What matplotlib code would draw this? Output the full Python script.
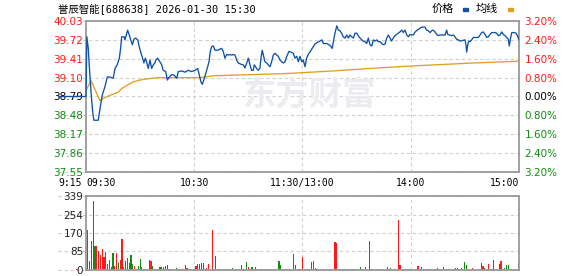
import matplotlib
matplotlib.use("Agg")
import matplotlib.pyplot as plt
from matplotlib.patches import Rectangle

plt.rcParams['font.family'] = ['DejaVu Sans', 'Noto Sans CJK SC']

# --- data ---
title = '誉辰智能[688638] 2026-01-30 15:30'
pre_close = 38.79
price_ticks = [37.55, 37.86, 38.17, 38.48, 38.79, 39.10, 39.41, 39.72, 40.03]
pct_labels = ['3.20%', '2.40%', '1.60%', '0.80%', '0.00%', '0.80%', '1.60%', '2.40%', '3.20%']
time_ticks = [-15.5, 0, 60, 120, 180, 240]
time_labels = ['9:15', '09:30', '10:30', '11:30/13:00', '14:00', '15:00']
vol_ticks = [0, 85, 170, 254, 339]

# minutes after 09:30 (lunch break removed)
price_min = [0.5, 1.3, 1.8, 2.8, 3.7, 4.4, 6.8, 7.4, 8.1, 9.0,
             10.5, 11.8, 13.3, 15.1, 16.1, 17.3, 18.5, 19.2, 19.8, 21.2,
             21.6, 22.6, 23.1, 24.0, 24.8, 25.7, 26.6, 27.5, 28.7, 29.5,
             30.5, 31.4, 32.1, 32.9, 33.6, 34.5, 35.5, 36.4, 37.3, 38.2,
             38.8, 39.7, 41.0, 42.0, 42.8, 44.2, 45.1, 46.2, 47.5, 48.9,
             50.3, 51.2, 53.0, 54.9, 56.7, 58.6, 60.4, 61.9, 62.6, 63.7,
             64.5, 65.6, 66.9, 68.2, 68.9, 69.7, 70.6, 71.5, 73.0, 74.3,
             75.2, 76.1, 77.0, 78.0, 78.9, 79.8, 80.8, 81.6, 82.6, 83.5,
             84.4, 85.9, 87.2, 88.1, 89.1, 90.0, 90.9, 91.8, 92.7, 93.3,
             94.6, 95.5, 96.4, 97.0, 97.7, 98.5, 99.2, 100.2, 101.0, 102.0,
             102.9, 103.8, 104.8, 105.7, 106.6, 107.5, 108.5, 109.4, 110.3, 111.3,
             112.5, 113.6, 114.9, 115.8, 116.8, 117.7, 118.6, 119.6, 120.4, 121.4,
             122.3, 123.2, 124.7, 126.0, 126.9, 128.4, 129.7, 130.7, 131.6, 133.4,
             134.7, 135.8, 136.5, 137.3, 138.0, 139.0, 139.9, 140.8, 141.7, 142.6,
             143.6, 144.5, 145.4, 146.3, 147.3, 148.2, 149.1, 150.0, 150.9, 151.9,
             152.8, 153.7, 154.7, 155.6, 156.5, 157.4, 158.4, 159.3, 160.2, 161.1,
             162.0, 163.0, 163.9, 164.8, 165.7, 166.7, 167.6, 168.5, 169.4, 170.3,
             171.3, 172.2, 173.1, 174.0, 175.0, 175.9, 176.8, 177.8, 178.7, 179.6,
             181.4, 182.4, 183.6, 185.1, 186.1, 187.9, 188.8, 189.7, 190.7, 191.6,
             192.5, 193.5, 194.4, 195.3, 196.2, 199.0, 199.9, 200.5, 201.4, 202.7,
             203.6, 204.5, 205.5, 206.4, 207.3, 210.1, 210.6, 211.0, 211.6, 212.1,
             212.9, 213.8, 214.7, 217.5, 218.4, 219.3, 220.2, 221.2, 222.1, 223.0,
             223.9, 224.9, 226.7, 227.6, 228.5, 229.5, 230.4, 231.3, 232.2, 233.2,
             234.1, 234.6, 235.4, 236.0, 237.2, 238.4, 239.1, 239.9]
price = [39.77, 39.58, 39.31, 38.87, 38.54, 38.40, 38.40, 38.52, 38.65, 38.81,
         38.95, 39.11, 39.11, 39.09, 39.25, 39.31, 39.42, 39.58, 39.77, 39.77,
         39.72, 39.83, 39.88, 39.80, 39.72, 39.64, 39.73, 39.75, 39.72, 39.61,
         39.50, 39.42, 39.34, 39.42, 39.36, 39.25, 39.39, 39.25, 39.31, 39.34,
         39.39, 39.42, 39.36, 39.31, 39.22, 39.20, 39.06, 39.11, 39.15, 39.14,
         39.09, 39.20, 39.21, 39.19, 39.22, 39.20, 39.22, 39.25, 39.17, 39.03,
         38.99, 39.09, 39.22, 39.36, 39.53, 39.61, 39.62, 39.55, 39.55, 39.57,
         39.58, 39.53, 39.42, 39.48, 39.47, 39.48, 39.47, 39.48, 39.47, 39.39,
         39.34, 39.32, 39.31, 39.26, 39.34, 39.42, 39.31, 39.22, 39.22, 39.31,
         39.25, 39.22, 39.25, 39.42, 39.55, 39.45, 39.36, 39.34, 39.31, 39.28,
         39.36, 39.47, 39.50, 39.47, 39.45, 39.39, 39.36, 39.34, 39.36, 39.45,
         39.53, 39.52, 39.50, 39.42, 39.45, 39.36, 39.45, 39.36, 39.39, 39.28,
         39.42, 39.48, 39.55, 39.61, 39.65, 39.68, 39.70, 39.72, 39.66, 39.66,
         39.64, 39.61, 39.58, 39.72, 39.83, 39.95, 39.88, 39.87, 39.83, 39.77,
         39.75, 39.80, 39.75, 39.80, 39.77, 39.75, 39.83, 39.83, 39.79, 39.75,
         39.72, 39.70, 39.69, 39.66, 39.75, 39.64, 39.62, 39.72, 39.70, 39.72,
         39.69, 39.69, 39.66, 39.64, 39.65, 39.75, 39.80, 39.75, 39.70, 39.75,
         39.79, 39.81, 39.83, 39.85, 39.88, 39.84, 39.88, 39.80, 39.77, 39.81,
         39.80, 39.85, 39.88, 39.91, 39.93, 39.93, 39.88, 39.87, 39.84, 39.87,
         39.88, 39.85, 39.81, 39.79, 39.80, 39.80, 39.88, 39.81, 39.80, 39.79,
         39.80, 39.77, 39.73, 39.72, 39.70, 39.72, 39.64, 39.52, 39.64, 39.70,
         39.69, 39.72, 39.76, 39.76, 39.80, 39.84, 39.85, 39.81, 39.76, 39.77,
         39.81, 39.84, 39.84, 39.83, 39.79, 39.80, 39.85, 39.81, 39.79, 39.76,
         39.73, 39.62, 39.76, 39.84, 39.84, 39.83, 39.79, 39.73]

avg_min = [0.2, 2.8, 7.8, 9.6, 13.3, 17.9, 19.8, 22.6, 26.2, 29.9, 36.4,
           41.0, 63.2, 70.4, 103.7, 113.0, 137.0, 157.4, 179.6, 214.5, 240.0]
avg_price = [38.90, 39.05, 38.72, 38.76, 38.81, 38.86, 38.92, 38.97, 39.03, 39.06, 39.09,
             39.10, 39.10, 39.13, 39.16, 39.17, 39.21, 39.25, 39.29, 39.34, 39.37]

vol_min = [-5, 1, 2, 3, 4, 5, 6, 7, 8, 9, 10, 11, 12, 13, 14, 15, 16, 17, 18, 19,
           20, 21, 22, 23, 24, 25, 26, 27, 28, 29, 30, 31, 32, 33, 34, 35, 36, 37, 38, 39,
           40, 41, 42, 43, 44, 45, 46, 47, 48, 50, 51, 52, 53, 54, 55, 56, 58, 60, 61, 62,
           63, 64, 65, 66, 67, 68, 69, 70, 71, 72, 73, 74, 76, 77, 78, 79, 80, 81, 83, 84,
           85, 86, 87, 88, 89, 90, 92, 93, 94, 95, 97, 98, 99, 100, 101, 103, 104, 105, 106, 107,
           108, 109, 110, 111, 112, 113, 115, 116, 118, 119, 120, 122, 123, 124, 125, 126, 127, 128, 129, 130,
           131, 135, 136, 138, 139, 140, 141, 142, 143, 144, 145, 146, 147, 148, 149, 150, 152, 153, 155, 157,
           158, 159, 163, 165, 166, 167, 168, 169, 171, 173, 174, 175, 176, 177, 178, 179, 181, 183, 184, 185,
           186, 187, 188, 189, 190, 191, 192, 193, 194, 195, 196, 198, 200, 201, 204, 205, 206, 207, 208, 210,
           211, 212, 214, 215, 219, 220, 221, 222, 223, 224, 225, 226, 227, 228, 229, 230, 231, 232, 233, 234,
           235, 240]
vol = [6, 185, 40, 132, 316, 109, 112, 89, 71, 94, 58, 83, 29, 48, 12, 78, 17, 78, 32, 48,
       140, 12, 43, 55, 32, 71, 29, 20, 6, 17, 52, 12, 6, 6, 6, 48, 40, 20, 6, 6,
       6, 12, 12, 15, 17, 25, 6, 6, 6, 11, 6, 6, 6, 6, 21, 9, 6, 6, 17, 29,
       28, 31, 34, 6, 11, 28, 6, 185, 6, 66, 6, 6, 6, 6, 6, 6, 6, 11, 6, 6,
       6, 25, 6, 6, 38, 12, 12, 6, 15, 6, 6, 6, 6, 6, 6, 6, 6, 6, 6, 43,
       25, 6, 6, 6, 6, 6, 75, 25, 6, 6, 61, 6, 6, 6, 38, 43, 11, 6, 6, 6,
       6, 6, 6, 130, 124, 6, 6, 6, 6, 6, 6, 6, 6, 6, 6, 6, 15, 6, 15, 135,
       6, 6, 6, 6, 6, 15, 6, 11, 6, 231, 25, 6, 6, 6, 6, 6, 6, 6, 20, 6,
       15, 6, 6, 6, 6, 6, 6, 6, 6, 11, 6, 15, 6, 6, 6, 11, 11, 6, 11, 38,
       25, 6, 11, 6, 34, 20, 11, 6, 29, 6, 6, 48, 6, 6, 29, 43, 6, 11, 25, 25,
       6, 43]
# r = up minute, g = down minute
vol_dir = ('rrggggrrrrrrrrggrrgr'
           'rrgrgggrggggggggrgrr'
           'ggggggrrrgrrrrrrrgrr'
           'gggrrrrrrgrrrgggrggg'
           'rgrggrgrgrrrgggrrrrg'
           'grrrrgrgrrrrrrrrrrrr'
           'rggrrggggrrrrgrrgggr'
           'grggrrrgrrrgrrgggrrg'
           'rgrgrrrrgrgrggrggrgg'
           'grrrrrggrgrgrggrgggg'
           'rg')

RED, GREEN = '#ff1a1a', '#118c11'
BLUE, GOLD = '#0f52a6', '#e0a020'
GRID = '#cfcfcf'
BOX = '#9a9a9a'

XMIN = -15.5

fig = plt.figure(figsize=(5.78, 2.76), dpi=100)
ax = fig.add_axes([58 / 578, 104 / 276, 461 / 578, 151 / 276])
axv = fig.add_axes([58 / 578, 6 / 276, 461 / 578, 74 / 276])


def frame(a):
    for s in a.spines.values():
        s.set_color(BOX)
        s.set_linewidth(1.3)
    a.spines['left'].set_position(('data', 0))
    a.spines['top'].set_bounds(0, 240)
    a.spines['bottom'].set_bounds(0, 240)
    a.set_xlim(XMIN, 240)
    for m in [60, 120, 180]:
        a.axvline(m, color=GRID, lw=0.8, ls=(0, (3, 2.5)), zorder=0)


# price panel
frame(ax)
ax.set_ylim(price_ticks[0], price_ticks[-1])
for p in price_ticks:
    ax.axhline(p, color=GRID, lw=0.8, ls=(0, (3, 2.5)), zorder=0, clip_on=False)
ax.text(0.545, 0.5, '东方财富', transform=ax.transAxes, ha='center', va='center',
        fontsize=24, fontweight='bold', color='#ececf0', zorder=0)

ax.plot([XMIN, 0] + price_min, [pre_close, pre_close] + price, color=BLUE, lw=0.95, zorder=3)
ax.plot(avg_min, avg_price, color=GOLD, lw=0.95, zorder=2)

ax.set_yticks(price_ticks)
ax.set_yticklabels(['%.2f' % p for p in price_ticks])
ax.tick_params(axis='y', length=0, pad=2, labelsize=7.5)
ax.set_xticks(time_ticks)
ax.set_xticklabels(time_labels, family='DejaVu Sans Mono', fontsize=7)
ax.tick_params(axis='x', length=0, pad=4)
xl = ax.get_xticklabels()
xl[0].set_ha('left')
xl[1].set_ha('left')
xl[-1].set_ha('right')

ax2 = ax.twinx()
ax2.set_ylim(price_ticks[0], price_ticks[-1])
ax2.set_yticks(price_ticks)
ax2.set_yticklabels(pct_labels[::-1])
ax2.tick_params(axis='y', length=0, pad=4, labelsize=7.5)
for s in ax2.spines.values():
    s.set_visible(False)

for lab_l, lab_r, p in zip(ax.get_yticklabels(), ax2.get_yticklabels(), price_ticks):
    c = RED if p > pre_close else (GREEN if p < pre_close else 'black')
    lab_l.set_color(c)
    lab_r.set_color(c)

# volume panel
frame(axv)
axv.set_ylim(0, vol_ticks[-1])
for v in vol_ticks:
    axv.axhline(v, color=GRID, lw=0.8, ls=(0, (3, 2.5)), zorder=0, clip_on=False)
axv.bar(vol_min, vol, width=0.65, color=[RED if d == 'r' else GREEN for d in vol_dir],
        linewidth=0, antialiased=False, zorder=2)
axv.set_yticks(vol_ticks)
axv.set_yticklabels([str(v) for v in vol_ticks])
axv.tick_params(axis='y', length=0, pad=2, labelsize=7.5, labelcolor='#222222')
axv.set_xticks([])

# title and legend
fig.text(58 / 578, 1 - 8.5 / 276, title, fontsize=7.5, va='center', ha='left',
         family=['DejaVu Sans Mono', 'Noto Sans CJK SC'])
fig.text(432 / 578, 1 - 8.5 / 276, '价格', fontsize=8, va='center', ha='left')
fig.text(476 / 578, 1 - 8.5 / 276, '均线', fontsize=8, va='center', ha='left')
fig.add_artist(Rectangle((463 / 578, 1 - 11 / 276), 5 / 578, 3 / 276,
                         transform=fig.transFigure, color=BLUE))
fig.add_artist(Rectangle((508 / 578, 1 - 11 / 276), 5 / 578, 3 / 276,
                         transform=fig.transFigure, color=GOLD))

fig.savefig('out.png', dpi=100)
